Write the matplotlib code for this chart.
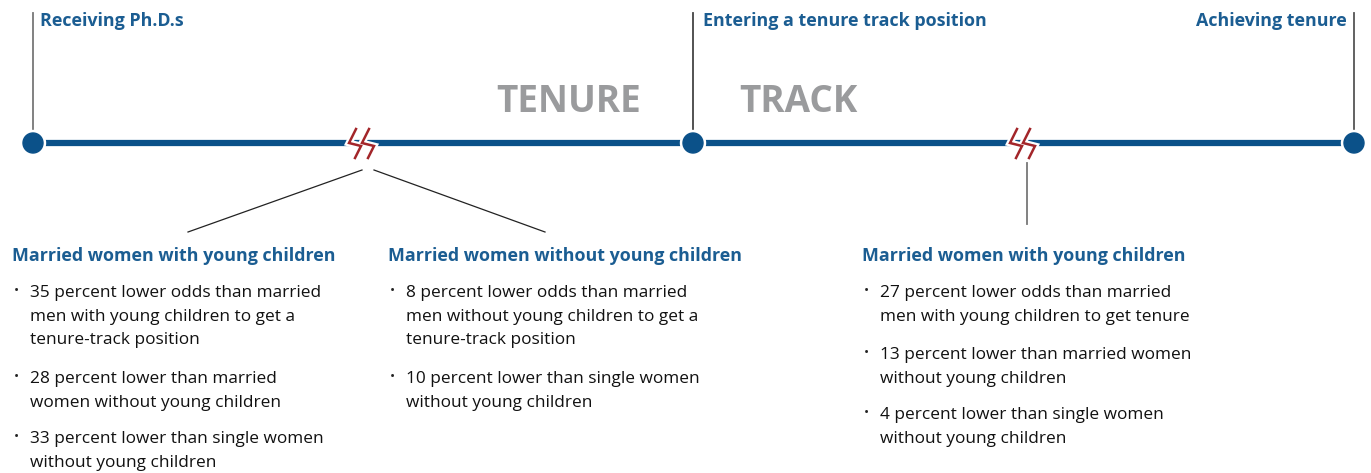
import matplotlib
matplotlib.use("Agg")
import matplotlib.pyplot as plt
from matplotlib.patches import Circle

# ---- data ----
milestones = ["Receiving Ph.D.s", "Entering a tenure track position", "Achieving tenure"]
big_words = ["TENURE", "TRACK"]
group_titles = ["Married women with young children",
                "Married women without young children",
                "Married women with young children"]
group_bullets = [
    [["35 percent lower odds than married", "men with young children to get a", "tenure-track position"],
     ["28 percent lower than married", "women without young children"],
     ["33 percent lower than single women", "without young children"]],
    [["8 percent lower odds than married", "men without young children to get a", "tenure-track position"],
     ["10 percent lower than single women", "without young children"]],
    [["27 percent lower odds than married", "men with young children to get tenure"],
     ["13 percent lower than married women", "without young children"],
     ["4 percent lower than single women", "without young children"]],
]

BLUE = "#0b5189"
TBLUE = "#1b5d92"
RED = "#a3262a"
GREY = "#9a9b9d"
FONT = "Open Sans"
HSIZE = 12.9
BSIZE = 12.4

W, H = 1371, 473
fig = plt.figure(figsize=(W / 100, H / 100), dpi=100)
ax = fig.add_axes([0, 0, 1, 1])
ax.set_xlim(0, W)
ax.set_ylim(H, 0)
ax.axis("off")

# timeline
line_y = 143
dots_x = [33, 693, 1354]
ax.plot([dots_x[0], dots_x[-1]], [line_y, line_y], color=BLUE, lw=4.5, solid_capstyle="butt", zorder=2)
for x in dots_x:
    ax.add_patch(Circle((x, line_y), 12.5, color="white", zorder=3))
    ax.add_patch(Circle((x, line_y), 10, color=BLUE, zorder=4))

# vertical milestone lines
vcols = ["#777777", "#444444", "#555555"]
for x, c in zip(dots_x, vcols):
    ax.plot([x, x], [13, 131], color=c, lw=1.3, zorder=1)

# milestone labels
ax.text(40, 21, milestones[0], ha="left", va="center", fontsize=HSIZE, fontweight="bold",
        color=TBLUE, family=FONT)
ax.text(703, 21, milestones[1], ha="left", va="center", fontsize=HSIZE, fontweight="bold",
        color=TBLUE, family=FONT)
ax.text(1347, 21, milestones[2], ha="right", va="center", fontsize=HSIZE, fontweight="bold",
        color=TBLUE, family=FONT)

# big words
ax.text(569, 102, big_words[0], ha="center", va="center", fontsize=26.6, fontweight="bold",
        color=GREY, family=FONT)
ax.text(798, 102, big_words[1], ha="center", va="center", fontsize=26.6, fontweight="bold",
        color=GREY, family=FONT)

# break marks
def zig(x0):
    xs = [x0 + 7, x0, x0 + 12, x0 + 6]
    ys = [129, 143, 146, 158]
    ax.plot(xs, ys, color="white", lw=5, zorder=5, solid_joinstyle="miter")
    ax.plot(xs, ys, color=RED, lw=1.8, zorder=6, solid_joinstyle="miter")

for x0 in (349, 362, 1010, 1023):
    zig(x0)

# connectors
ax.plot([362, 188], [170, 232], color="#222222", lw=0.9)
ax.plot([374, 545], [170, 232], color="#222222", lw=0.9)
ax.plot([1027, 1027], [163, 224], color="#777777", lw=1.3)

# groups
group_x = [12, 388, 862]
group_item_y = [[293, 379, 439], [293, 379], [293, 355, 415]]
line_gap = 23.5
for gx, title, items, ys in zip(group_x, group_titles, group_bullets, group_item_y):
    ax.text(gx, 256, title, ha="left", va="center", fontsize=HSIZE, fontweight="bold",
            color=TBLUE, family=FONT)
    for lines, y0 in zip(items, ys):
        ax.text(gx + 2, y0 - 2, "•", ha="left", va="center", fontsize=10, color="#222222", family=FONT)
        for i, ln in enumerate(lines):
            ax.text(gx + 18, y0 + i * line_gap, ln, ha="left", va="center", fontsize=BSIZE,
                    color="#111111", family=FONT)

fig.savefig("out.png", dpi=100, facecolor="white")
